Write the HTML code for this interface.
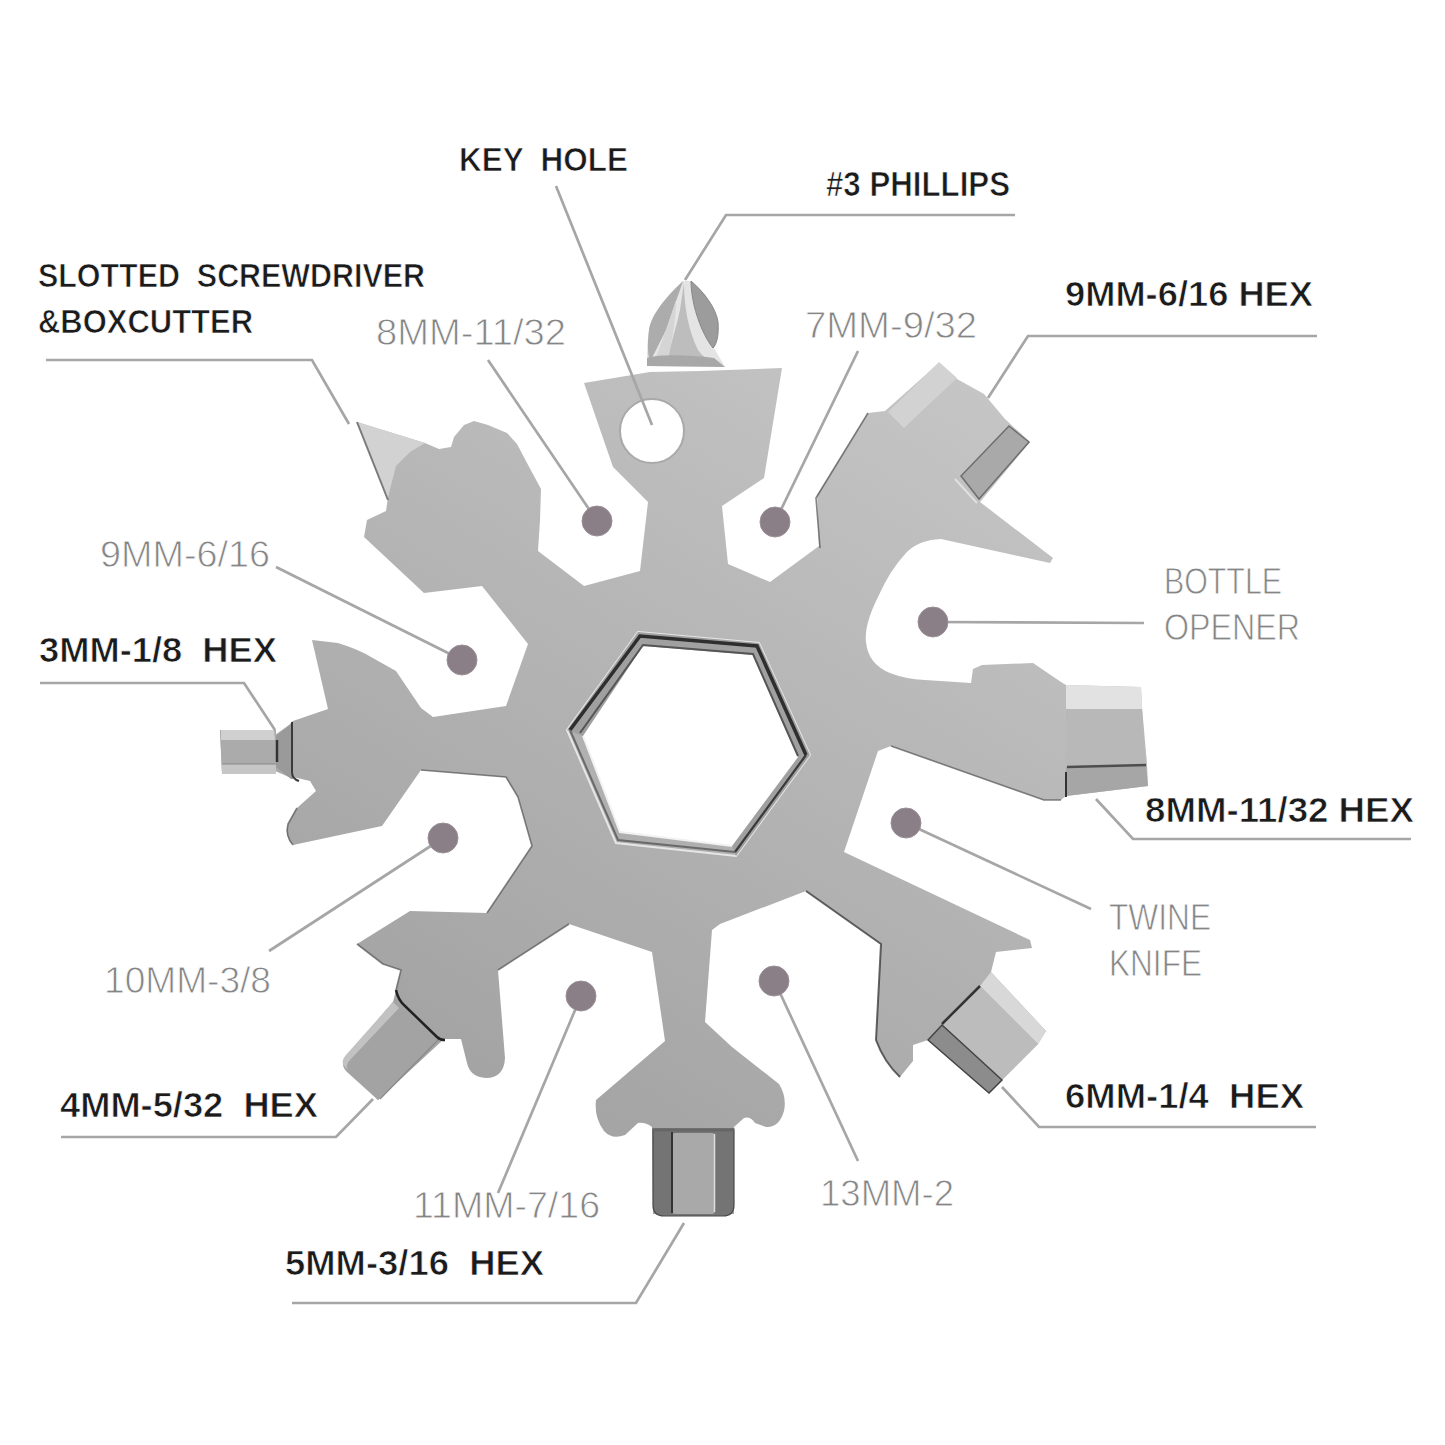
<!DOCTYPE html>
<html><head><meta charset="utf-8">
<style>
html,body{margin:0;padding:0;background:#fff;width:1445px;height:1445px;overflow:hidden}
svg{display:block}
text{white-space:pre}
.b{font-family:"Liberation Sans",sans-serif;font-weight:bold;font-size:35px;fill:#1b1b1b;stroke:#fff;stroke-width:0.7px}
.l{font-family:"Liberation Sans",sans-serif;font-weight:normal;font-size:36px;fill:#858585;stroke:#fff;stroke-width:0.8px}
.ln{stroke:#a6a6a6;stroke-width:2.7;fill:none}
.dot{fill:#8b7f87;stroke:#9a8f96;stroke-width:1}
</style></head>
<body>
<svg width="1445" height="1445" viewBox="0 0 1445 1445">
<defs>
<linearGradient id="fg" gradientUnits="userSpaceOnUse" x1="379" y1="1243" x2="1001" y2="217">
<stop offset="0" stop-color="#9c9c9c"/><stop offset="1" stop-color="#cbcbcb"/>
</linearGradient>
</defs>
<rect width="1445" height="1445" fill="#fff"/>

<!-- phillips bit -->
<path d="M683,281 C670,294 652,314 649,330 C647,342 647,356 647,366 L725,367 L714,348 C718,335 718,320 712,308 C705,296 697,286 691,281 Z" fill="#e4e4e4"/>
<path d="M683,281 C668,295 651,314 649,330 C647,345 648,356 650,362 C656,350 662,338 666,330 C672,312 678,296 683,281 Z" fill="#acacac"/>
<path d="M676,300 C670,320 662,340 656,358 L668,360 C672,340 676,320 676,300 Z" fill="#d5d5d5"/>
<path d="M684,283 C684,305 688,330 698,350 C702,356 708,360 712,362 L712,366 L668,366 C668,350 676,330 680,310 Z" fill="#bdbdbd"/>
<path d="M691,281 C704,292 716,308 718,322 C719,334 717,344 713,348 C705,338 698,322 694,305 C692,296 691,288 691,281 Z" fill="#9c9c9c" stroke="#888" stroke-width="1"/>
<path d="M647,358 C660,354 690,355 714,358 L725,367 L647,366 Z" fill="#a8a8a8"/>
<!-- snowflake silhouette -->
<path id="flake" fill="url(#fg)" d="
M584,383 L650,372 L700,371 L782,368 L764,478 L722,506 L728,564 L770,582 L819,546 L817,495 L868,413
L885,411 L939,363 L957,379 L984,394 L1005,419 L1030,442 L980,502 L1053,558 L1050,563 L941,539 Q918,540 906,553
Q890,570 878,597 Q864,625 866,642 Q868,664 890,673 Q905,679 925,680 L971,683 L973,669 L982,665 L1033,663 L1061,682
L1066,685 L1141,687 L1142,707 L1147,764 L1148,786 L1066,796 L1061,800 L1044,800 L891,746 L878,751
L844,852 L1030,940 L1032,948 L996,952 L991,972 L1046,1031 L1038,1044 L1002,1080 L989,1093
L928,1040 L913,1045 L913,1061 L900,1077 Q884,1062 876,1040 L881,944 L806,891 L720,924 L712,930
L705,1022 L732,1047 L779,1084 Q787,1097 784,1111 Q779,1128 766,1127 L755,1123 Q750,1116 744,1118 L734,1127 L734,1214 L653,1214 L652,1127 Q645,1122 638,1123 L625,1135 Q612,1140 604,1131 Q594,1118 596,1100
L665,1041 L652,952 L569,924 L498,970 L505,1058 Q504,1078 486,1078 Q470,1077 467,1063 L461,1039 L444,1039
L378,1100 L343,1061 L393,1002 L396,990 L401,970 L383,964 L357,944 L410,911 L487,913
L532,846 L518,797 L506,777 L421,770 L382,826 L293,845 Q284,836 288,824 L297,808 L316,791 L310,781 L293,777 L289,777 L275,771 L275,772
L222,773 L220,731 L275,731 L275,735 L289,725 L293,721 L328,709 L312,640 L338,643 Q360,650 371,657 L396,671 L421,708 L433,717 L506,706
L528,644 L482,586 L424,593 L364,537 L367,520 L386,511 L388,497 L357,422 L425,443 L439,449 L451,447 L454,437 L464,425 L474,421 L488,425 L507,433 L517,444
L527,463 L541,489 L540,520 L538,551 L584,586 L640,571 L648,502 L613,467 Z"/>

<!-- blade -->
<path d="M357,422 L425,443 L410,452 L396,466 L388,497 Z" fill="#d2d2d2"/>
<line x1="357" y1="422" x2="388" y2="500" stroke="#7a7a7a" stroke-width="2"/>
<!-- key hole -->
<circle cx="652" cy="431" r="32" fill="#fff" stroke="#a9a9a9" stroke-width="2"/>

<!-- central hex hole -->
<path d="M638,632 L759,643 L810,755 L736,856 L616,843 L567,730 Z" fill="none" stroke="#e6e6e6" stroke-width="2"/>
<path d="M567,730 L638,632 L759,643 L810,755 L736,856 L732,846 L798,757 L753,655 L643,646 L583,736 Z" fill="#a0a0a0"/>
<path d="M643,646 L753,655 L798,757 L732,846 L620,832 L583,736 Z" fill="#fff"/>
<polyline points="570,730 640,636 757,646 806,755" fill="none" stroke="#2e2e2e" stroke-width="3.5"/>
<polyline points="806,755 735,852" fill="none" stroke="#3a3a3a" stroke-width="2.2"/>
<polyline points="580,733 643,645 753,654 798,756" fill="none" stroke="#555" stroke-width="2"/>
<polyline points="735,852 618,840 570,730" fill="none" stroke="#6a6a6a" stroke-width="2"/>
<polyline points="732,846 620,832 583,736" fill="none" stroke="#f2f2f2" stroke-width="2"/>
<!-- hex bits -->
<path d="M1066,685 L1141,687 L1142,709 L1066,709 Z" fill="#e2e2e2"/>
<path d="M1066,709 L1142,709 L1146,765 L1066,767 Z" fill="#b8b8b8"/>
<path d="M1066,767 L1146,765 L1148,786 L1066,796 Z" fill="#a6a6a6"/>
<line x1="1067" y1="767" x2="1146" y2="765" stroke="#4e4e4e" stroke-width="2.5"/>
<line x1="1066" y1="772" x2="1066" y2="797" stroke="#333" stroke-width="2"/>
<path d="M1009,426 L1029,442 L979,499 L961,476 Z" fill="#a9a9a9" stroke="#6e6e6e" stroke-width="1.5"/>
<line x1="955" y1="479" x2="977" y2="503" stroke="#e0e0e0" stroke-width="2"/>
<path d="M888,412 L939,362 L957,378 L904,428 Z" fill="#d2d2d2"/>
<path d="M991,972 L1046,1031 L1038,1044 L980,986 Z" fill="#d8d8d8"/>
<path d="M980,986 L1038,1044 L1002,1080 L942,1025 Z" fill="#bcbcbc"/>
<path d="M928,1040 L942,1025 L1002,1080 L989,1093 Z" fill="#8c8c8c" stroke="#444" stroke-width="1.5"/>
<line x1="980" y1="986" x2="942" y2="1024" stroke="#333" stroke-width="2.5"/>
<path d="M653,1129 L734,1129 L734,1205 Q734,1216 723,1216 L664,1216 Q653,1216 653,1205 Z" fill="#747474" stroke="#4a4a4a" stroke-width="1.2"/>
<rect x="672" y="1133" width="43" height="81" rx="3" fill="#a9a9a9"/>
<line x1="672" y1="1132" x2="672" y2="1213" stroke="#333" stroke-width="2"/>
<line x1="714.5" y1="1134" x2="714.5" y2="1212" stroke="#dedede" stroke-width="1.5"/>
<line x1="653" y1="1130" x2="734" y2="1130" stroke="#666" stroke-width="3"/>
<path d="M220,730 L276,730 L276,774 L222,774 Z" fill="#ababab"/>
<path d="M221,730 L274,730 L275,740 L221,740 Z" fill="#d0d0d0"/>
<path d="M222,764 L276,764 L276,774 L222,774 Z" fill="#c6c6c6"/>
<line x1="222" y1="764" x2="276" y2="764" stroke="#888" stroke-width="1"/>
<path d="M276,736 L291,724 L293,721 L293,779 L291,779 L276,767 Z" fill="#9a9a9a"/>
<line x1="277" y1="740" x2="277" y2="762" stroke="#333" stroke-width="2.5"/>
<path d="M292,722 L292,772 Q292,779 299,781" fill="none" stroke="#3a3a3a" stroke-width="2"/>
<path d="M393,1002 L438,1040 L378,1100 L347,1072 Q339,1064 347,1056 Z" fill="#a3a3a3"/>
<path d="M393,1002 L399,1008 L350,1060 Q344,1066 349,1071 L346,1068 Q339,1062 346,1055 Z" fill="#c2c2c2"/>
<line x1="438" y1="1040" x2="380" y2="1099" stroke="#8a8a8a" stroke-width="1.2"/>
<path d="M396,990 Q398,1000 405,1006 L437,1037 Q440,1040 445,1040" fill="none" stroke="#222" stroke-width="2.5"/>
<!-- dark edges -->
<g fill="none" stroke="#5a5a5a" stroke-width="1.6" stroke-opacity="0.75" stroke-linejoin="round">
<polyline points="891,746 1044,800 1061,800"/>
<path d="M806,891 L881,944 L876,1040 Q884,1062 900,1077" stroke="#333" stroke-width="2"/>
<polyline points="357,944 383,964 401,970 396,990"/>
<path d="M297,808 L288,824 Q285,836 293,845"/>
<polyline points="421,770 506,777 518,797 532,846 487,913"/>
<polyline points="868,413 816,498 820,548"/>
<polyline points="569,924 498,970"/>
</g>
<!-- leader lines -->
<polyline class="ln" points="46,360 312,360 349,424"/>
<polyline class="ln" points="556,186 652,425"/>
<polyline class="ln" points="1015,215 726,215 685,280"/>
<polyline class="ln" points="1317,336 1028,336 988,398"/>
<polyline class="ln" points="488,360 597,521"/>
<polyline class="ln" points="858,351 775,522"/>
<polyline class="ln" points="276,567 462,660"/>
<polyline class="ln" points="40,683 244,683 275,730"/>
<polyline class="ln" points="933,622 1144,623"/>
<polyline class="ln" points="1411,839 1133,839 1096,799"/>
<polyline class="ln" points="906,823 1091,909"/>
<polyline class="ln" points="1316,1127 1039,1127 1002,1087"/>
<polyline class="ln" points="443,838 269,951"/>
<polyline class="ln" points="61,1137 336,1137 373,1099"/>
<polyline class="ln" points="581,996 498,1193"/>
<polyline class="ln" points="774,980 858,1161"/>
<polyline class="ln" points="292,1303 636,1303 684,1223"/>

<!-- dots -->
<circle class="dot" cx="597" cy="521" r="15"/>
<circle class="dot" cx="775" cy="522" r="15"/>
<circle class="dot" cx="933" cy="622" r="15"/>
<circle class="dot" cx="906" cy="823" r="15"/>
<circle class="dot" cx="774" cy="981" r="15"/>
<circle class="dot" cx="581" cy="996" r="15"/>
<circle class="dot" cx="443" cy="838" r="15"/>
<circle class="dot" cx="462" cy="660" r="15"/>

<!-- bold labels -->
<text class="b" x="38" y="287" textLength="387" lengthAdjust="spacingAndGlyphs" style="font-size:33px">SLOTTED  SCREWDRIVER</text>
<text class="b" x="38" y="333" textLength="215" lengthAdjust="spacingAndGlyphs" style="font-size:33px">&amp;BOXCUTTER</text>
<text class="b" x="459" y="171" textLength="169" lengthAdjust="spacingAndGlyphs" style="font-size:33px">KEY  HOLE</text>
<text class="b" x="826" y="196" textLength="184" lengthAdjust="spacingAndGlyphs">#3 PHILLIPS</text>
<text class="b" x="1065" y="306" textLength="248" lengthAdjust="spacingAndGlyphs">9MM-6/16 HEX</text>
<text class="b" x="39" y="662" textLength="238" lengthAdjust="spacingAndGlyphs">3MM-1/8  HEX</text>
<text class="b" x="1145" y="822" textLength="269" lengthAdjust="spacingAndGlyphs">8MM-11/32 HEX</text>
<text class="b" x="1065" y="1108" textLength="239" lengthAdjust="spacingAndGlyphs">6MM-1/4  HEX</text>
<text class="b" x="60" y="1117" textLength="258" lengthAdjust="spacingAndGlyphs">4MM-5/32  HEX</text>
<text class="b" x="285" y="1275" textLength="259" lengthAdjust="spacingAndGlyphs">5MM-3/16  HEX</text>

<!-- light labels -->
<text class="l" x="376" y="345" textLength="190" lengthAdjust="spacingAndGlyphs">8MM-11/32</text>
<text class="l" x="805" y="338" textLength="172" lengthAdjust="spacingAndGlyphs">7MM-9/32</text>
<text class="l" x="100" y="567" textLength="170" lengthAdjust="spacingAndGlyphs">9MM-6/16</text>
<text class="l" x="1164" y="594" textLength="118" lengthAdjust="spacingAndGlyphs">BOTTLE</text>
<text class="l" x="1164" y="640" textLength="136" lengthAdjust="spacingAndGlyphs">OPENER</text>
<text class="l" x="1109" y="930" textLength="102" lengthAdjust="spacingAndGlyphs">TWINE</text>
<text class="l" x="1109" y="976" textLength="93" lengthAdjust="spacingAndGlyphs">KNIFE</text>
<text class="l" x="104" y="993" textLength="167" lengthAdjust="spacingAndGlyphs">10MM-3/8</text>
<text class="l" x="413" y="1218" textLength="187" lengthAdjust="spacingAndGlyphs">11MM-7/16</text>
<text class="l" x="820" y="1206" textLength="134" lengthAdjust="spacingAndGlyphs">13MM-2</text>
</svg>
</body></html>
